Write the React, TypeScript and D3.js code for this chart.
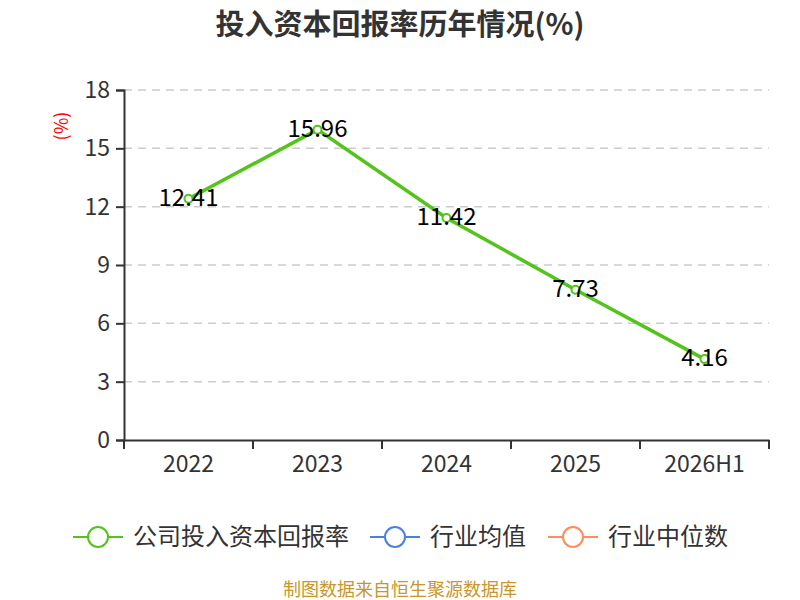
import { useEffect, useRef } from "react"
import * as d3 from "d3"

const categories = ["2022", "2023", "2024", "2025", "2026H1"]
const roicValues = [12.41, 15.96, 11.42, 7.73, 4.16]
const yTicks = [0, 3, 6, 9, 12, 15, 18]

const legendItems = [
  { label: "公司投入资本回报率", color: "#52c41a" },
  { label: "行业均值", color: "#4a7fe6" },
  { label: "行业中位数", color: "#ff8c5a" },
]

const FONT = "'Noto Sans CJK SC', 'Noto Sans', sans-serif"

export default function App() {
  const svgRef = useRef<SVGSVGElement>(null)

  useEffect(() => {
    if (!svgRef.current) return
    const svg = d3.select(svgRef.current)
    svg.selectAll("*").remove()

    const left = 124
    const right = 769
    const top = 90
    const bottom = 440

    const x = d3.scaleBand<string>().domain(categories).range([left, right])
    const y = d3.scaleLinear().domain([0, 18]).range([bottom, top])

    // Title
    svg
      .append("text")
      .attr("x", 400)
      .attr("y", 35)
      .attr("text-anchor", "middle")
      .attr("fill", "#333")
      .style("font-family", FONT)
      .style("font-size", "29px")
      .style("font-weight", "bold")
      .text("投入资本回报率历年情况(%)")

    // Grid lines
    svg
      .append("g")
      .selectAll("line")
      .data(yTicks.filter((t) => t > 0))
      .enter()
      .append("line")
      .attr("x1", left)
      .attr("x2", right)
      .attr("y1", (d) => y(d))
      .attr("y2", (d) => y(d))
      .attr("stroke", "#cccccc")
      .attr("stroke-width", 1.5)
      .attr("stroke-dasharray", "8,6")

    // Y axis
    const yAxis = svg
      .append("g")
      .attr("transform", `translate(${left},0)`)
      .call(d3.axisLeft(y).tickValues(yTicks).tickSize(8).tickPadding(6))
    yAxis.select(".domain").attr("stroke", "#333").attr("stroke-width", 2)
    yAxis.selectAll(".tick line").attr("stroke", "#333").attr("stroke-width", 2)
    yAxis
      .selectAll(".tick text")
      .attr("fill", "#333")
      .style("font-family", FONT)
      .style("font-size", "23px")

    // X axis
    const xAxis = svg
      .append("g")
      .attr("transform", `translate(0,${bottom})`)
      .call(d3.axisBottom(x).tickSize(0).tickPadding(12).tickSizeOuter(0))
    xAxis.select(".domain").attr("stroke", "#333").attr("stroke-width", 2)
    xAxis
      .selectAll(".tick text")
      .attr("fill", "#333")
      .attr("dy", "0.85em")
      .style("font-family", FONT)
      .style("font-size", "23px")

    // Boundary ticks between categories
    const edges = categories.map((c) => x(c) as number).concat([right])
    svg
      .append("g")
      .selectAll("line")
      .data(edges)
      .enter()
      .append("line")
      .attr("x1", (d) => d)
      .attr("x2", (d) => d)
      .attr("y1", bottom)
      .attr("y2", bottom + 9)
      .attr("stroke", "#333")
      .attr("stroke-width", 2)

    // Y axis unit label
    svg
      .append("text")
      .attr("transform", "translate(68,126) rotate(-90)")
      .attr("text-anchor", "middle")
      .attr("fill", "#ff0000")
      .style("font-family", FONT)
      .style("font-size", "18px")
      .text("(%)")

    const cx = (i: number) => (x(categories[i]) as number) + x.bandwidth() / 2

    // Line
    const line = d3
      .line<number>()
      .x((_, i) => cx(i))
      .y((d) => y(d))
    svg
      .append("path")
      .datum(roicValues)
      .attr("d", line)
      .attr("fill", "none")
      .attr("stroke", "#52c41a")
      .attr("stroke-width", 3.5)

    // Markers
    svg
      .append("g")
      .selectAll("circle")
      .data(roicValues)
      .enter()
      .append("circle")
      .attr("cx", (_, i) => cx(i))
      .attr("cy", (d) => y(d))
      .attr("r", 4)
      .attr("fill", "#fff")
      .attr("stroke", "#52c41a")
      .attr("stroke-width", 2)

    // Value labels
    svg
      .append("g")
      .selectAll("text")
      .data(roicValues)
      .enter()
      .append("text")
      .attr("x", (_, i) => cx(i))
      .attr("y", (d) => y(d))
      .attr("dy", "0.3em")
      .attr("text-anchor", "middle")
      .attr("fill", "#000")
      .style("font-family", FONT)
      .style("font-size", "24px")
      .text((d) => d.toFixed(2))

    // Legend
    const legendX = [73, 370, 548]
    const legendY = 537
    legendItems.forEach((item, i) => {
      const g = svg.append("g").attr("transform", `translate(${legendX[i]},${legendY})`)
      g.append("line")
        .attr("x1", 0)
        .attr("x2", 50)
        .attr("y1", 0)
        .attr("y2", 0)
        .attr("stroke", item.color)
        .attr("stroke-width", 2)
      g.append("circle")
        .attr("cx", 25)
        .attr("cy", 0)
        .attr("r", 10)
        .attr("fill", "#fff")
        .attr("stroke", item.color)
        .attr("stroke-width", 2)
      g.append("text")
        .attr("x", 60)
        .attr("y", 0)
        .attr("dy", "0.35em")
        .attr("fill", "#333")
        .style("font-family", FONT)
        .style("font-size", "24px")
        .text(item.label)
    })

    // Footer
    svg
      .append("text")
      .attr("x", 400)
      .attr("y", 596)
      .attr("text-anchor", "middle")
      .attr("fill", "#c8962a")
      .style("font-family", FONT)
      .style("font-size", "18px")
      .text("制图数据来自恒生聚源数据库")
  }, [])

  return (
    <div style={{ position: "absolute", left: 0, top: 0, width: 800, height: 600, background: "#fff" }}>
      <svg ref={svgRef} width={800} height={600}></svg>
    </div>
  )
}
